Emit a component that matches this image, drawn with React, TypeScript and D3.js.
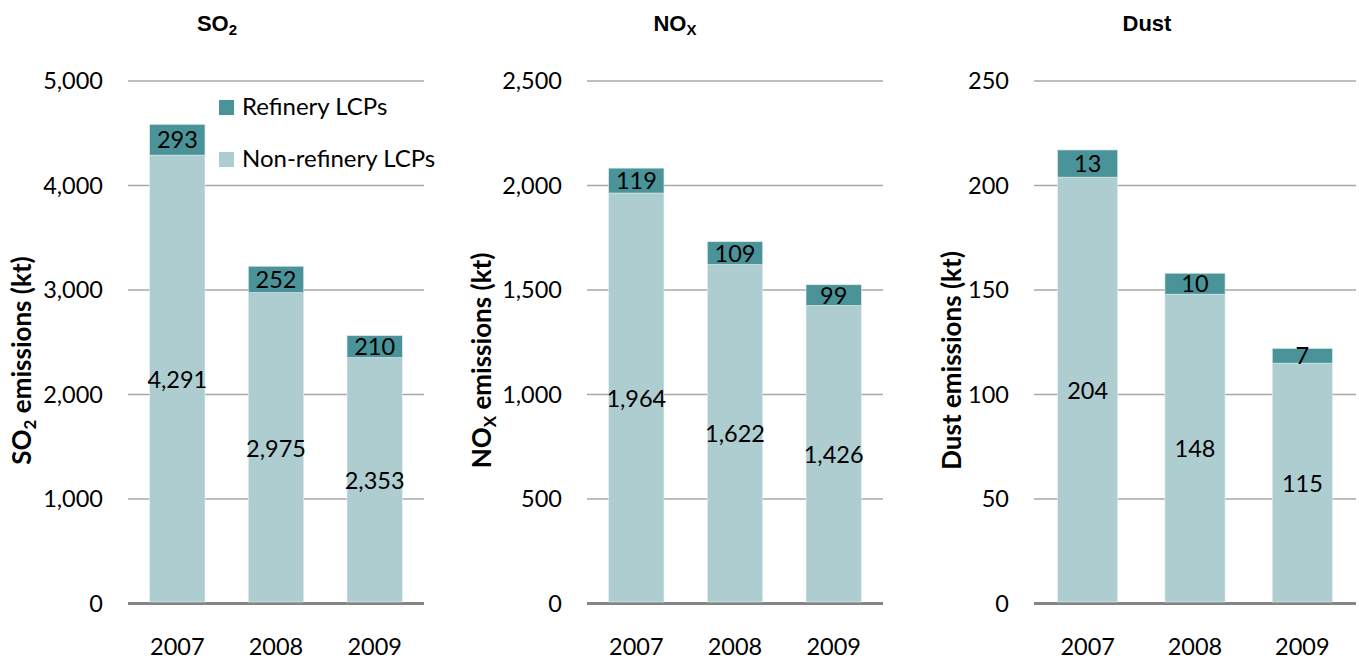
import { useEffect } from "react";
import * as d3 from "d3";

const years = ["2007", "2008", "2009"];

const so2NonRefinery = [4291, 2975, 2353];
const so2Refinery = [293, 252, 210];
const noxNonRefinery = [1964, 1622, 1426];
const noxRefinery = [119, 109, 99];
const dustNonRefinery = [204, 148, 115];
const dustRefinery = [13, 10, 7];

const so2Ticks = [0, 1000, 2000, 3000, 4000, 5000];
const noxTicks = [0, 500, 1000, 1500, 2000, 2500];
const dustTicks = [0, 50, 100, 150, 200, 250];

const legendLabels = ["Refinery LCPs", "Non-refinery LCPs"];

const DARK = "#4a9499";
const LIGHT = "#aecdd0";
const FONT = "Lato, 'Noto Sans', sans-serif";

const W = 1359;
const H = 659;
const TOP = 81;
const BOTTOM = 603.5;

interface Panel {
  title: string;
  sub: string;
  axisLabel: string;
  lower: number[];
  upper: number[];
  ticks: number[];
  left: number;
  right: number;
  titleX: number;
  axisX: number;
}

const panels: Panel[] = [
  { title: "SO", sub: "2", axisLabel: "SO2", lower: so2NonRefinery, upper: so2Refinery, ticks: so2Ticks, left: 128, right: 424, titleX: 217, axisX: 22 },
  { title: "NO", sub: "X", axisLabel: "NOX", lower: noxNonRefinery, upper: noxRefinery, ticks: noxTicks, left: 587, right: 883, titleX: 675, axisX: 482 },
  { title: "Dust", sub: "", axisLabel: "Dust", lower: dustNonRefinery, upper: dustRefinery, ticks: dustTicks, left: 1034, right: 1356, titleX: 1147, axisX: 952 },
];

const fmt = d3.format(",");

function ChartPanel({ p }: { p: Panel }) {
  const x = d3.scaleBand<string>().domain(years).range([p.left, p.right]).paddingInner(0.44).paddingOuter(0.22);
  const y = d3.scaleLinear().domain([0, p.ticks[p.ticks.length - 1]]).range([BOTTOM, TOP]);
  const tickRight = p.left - 25;

  return (
    <g>
      {/* panel title */}
      <text x={p.titleX} y={31} textAnchor="middle" fontFamily="'Liberation Sans', Arial, sans-serif" fontWeight="bold" fontSize={22}>
        {p.title}
        {p.sub && (
          <tspan fontSize={15} dy={4}>{p.sub}</tspan>
        )}
      </text>

      {/* y axis title */}
      <text transform={`translate(${p.axisX + 9},${BOTTOM - 243}) rotate(-90)`} textAnchor="middle" fontFamily={FONT} fontWeight="bold" fontSize={26} fill="#000">
        {p.axisLabel === "SO2" ? (
          <>SO<tspan fontSize={17} dy={5}>2</tspan><tspan dy={-5}> emissions (kt)</tspan></>
        ) : p.axisLabel === "NOX" ? (
          <>NO<tspan fontSize={17} dy={5}>X</tspan><tspan dy={-5}> emissions (kt)</tspan></>
        ) : (
          <>Dust emissions (kt)</>
        )}
      </text>

      {/* gridlines */}
      {p.ticks.map((t) => (
        <line key={t} x1={p.left} x2={p.right} y1={y(t)} y2={y(t)} stroke={t === 0 ? "#858585" : "#a8a8a8"} strokeWidth={t === 0 ? 3 : 1.6} />
      ))}

      {/* tick labels */}
      {p.ticks.map((t) => (
        <text key={"l" + t} x={tickRight} y={y(t)} dy="0.36em" textAnchor="end" fontFamily={FONT} fontSize={23.5} fill="#000">
          {fmt(t)}
        </text>
      ))}

      {/* bars */}
      {years.map((yr, i) => {
        const lo = p.lower[i];
        const up = p.upper[i];
        const bx = x(yr) as number;
        const bw = x.bandwidth();
        return (
          <g key={yr}>
            <rect x={bx} width={bw} y={y(lo)} height={y(0) - y(lo) - 1.5} fill={LIGHT} stroke="#e4eeef" strokeWidth={0.6} />
            <rect x={bx} width={bw} y={y(lo + up)} height={y(lo) - y(lo + up)} fill={DARK} stroke="#d8e8e9" strokeWidth={0.6} />
            <text x={bx + bw / 2} y={(y(lo) + y(0)) / 2} dy="0.36em" textAnchor="middle" fontFamily={FONT} fontSize={23.5} fill="#000">
              {fmt(lo)}
            </text>
            <text x={bx + bw / 2} y={(y(lo) + y(lo + up)) / 2} dy="0.36em" textAnchor="middle" fontFamily={FONT} fontSize={23.5} fill="#000">
              {fmt(up)}
            </text>
            <text x={bx + bw / 2} y={655} textAnchor="middle" fontFamily={FONT} fontSize={23.5} fill="#000">
              {yr}
            </text>
          </g>
        );
      })}
    </g>
  );
}

export default function App() {
  useEffect(() => {
    document.body.style.margin = "0";
  }, []);

  return (
    <svg width={W} height={H} style={{ display: "block", background: "#fff" }}>
      {panels.map((p) => (
        <ChartPanel key={p.title} p={p} />
      ))}
      {/* legend */}
      {legendLabels.map((lab, i) => (
        <g key={lab} transform={`translate(219,${100 + i * 52})`}>
          <rect width={15} height={15} fill={i === 0 ? DARK : LIGHT} />
          <text x={23} y={15} fontFamily={FONT} fontSize={24} fill="#000">
            {lab}
          </text>
        </g>
      ))}
    </svg>
  );
}
